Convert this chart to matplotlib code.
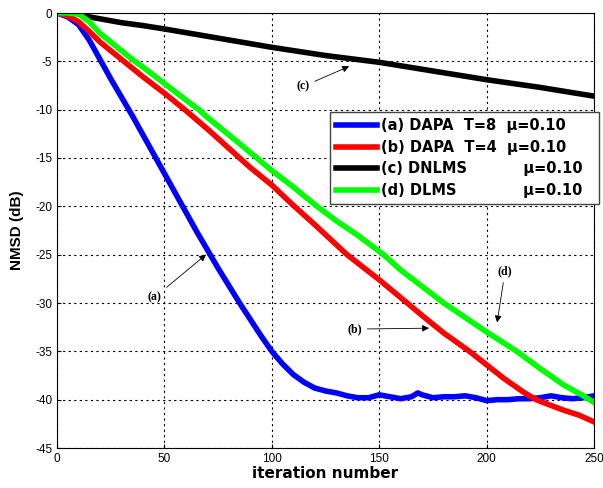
import numpy as np
import matplotlib
matplotlib.use('Agg')
import matplotlib.pyplot as plt

plt.rcParams['axes.unicode_minus'] = False
plt.rcParams['font.family'] = ['Liberation Sans', 'DejaVu Sans']

# values (iteration, NMSD in dB)
it_a = [0, 5, 10, 15, 20, 25, 30, 35, 40, 45, 50, 55, 60, 65, 70, 75, 80, 85, 90, 95,
        100, 105, 110, 115, 120, 125, 130, 135, 140, 145, 150, 155, 160, 165, 168, 170,
        175, 180, 185, 190, 195, 200, 205, 210, 215, 220, 225, 230, 235, 240, 245, 250]
nmsd_a = [0, -0.4, -1.2, -2.8, -4.8, -6.8, -8.7, -10.6, -12.6, -14.6, -16.6, -18.6, -20.6,
          -22.6, -24.5, -26.4, -28.2, -30.0, -31.7, -33.4, -35.0, -36.3, -37.4, -38.2,
          -38.8, -39.1, -39.3, -39.6, -39.8, -39.8, -39.5, -39.7, -39.9, -39.7, -39.3,
          -39.5, -39.8, -39.7, -39.7, -39.6, -39.8, -40.1, -40.0, -40.0, -39.9, -39.9,
          -39.8, -39.6, -39.8, -39.9, -39.8, -39.6]

it_b = [0, 5, 10, 15, 20, 25, 30, 35, 40, 50, 60, 70, 80, 90, 100, 110, 120, 135,
        150, 163, 170, 180, 192, 200, 208, 217, 223, 230, 236, 243, 250]
nmsd_b = [0, -0.3, -0.9, -1.9, -3.0, -3.9, -4.8, -5.7, -6.6, -8.3, -10.1, -12.0, -14.0,
          -16.0, -17.8, -19.9, -21.9, -25.0, -27.6, -30.0, -31.3, -33.1, -35.0,
          -36.4, -37.8, -39.2, -40.0, -40.6, -41.1, -41.6, -42.3]

it_c = [0, 8, 10, 15, 20, 30, 40, 50, 75, 100, 125, 150, 175, 200, 225, 250]
nmsd_c = [0, 0, -0.1, -0.4, -0.6, -1.0, -1.3, -1.65, -2.6, -3.55, -4.4, -5.1, -6.0, -6.9,
          -7.7, -8.6]

it_d = [0, 5, 10, 15, 20, 25, 30, 35, 40, 50, 60, 66, 70, 80, 93, 100, 110, 121, 130,
        140, 152, 160, 170, 180, 190, 200, 214, 225, 236, 245, 250]
nmsd_d = [0, 0, -0.1, -0.9, -2.1, -3.0, -3.9, -4.8, -5.6, -7.3, -9.0, -10.0, -10.8, -12.6,
          -15.0, -16.3, -18.0, -20.0, -21.5, -23.0, -25.0, -26.6, -28.3, -30.0, -31.5,
          -33.0, -35.0, -36.8, -38.5, -39.6, -40.3]

labels = ['(a) DAPA  T=8  \u03bc=0.10',
          '(b) DAPA  T=4  \u03bc=0.10',
          '(c) DNLMS' + ' ' * 11 + '\u03bc=0.10  ',
          '(d) DLMS' + ' ' * 13 + '\u03bc=0.10']
colors = ['#0000ff', '#ff0000', '#000000', '#00ff00']

fig = plt.figure(figsize=(6.03, 4.88), dpi=100)
ax = fig.add_axes([57/603, 1-448/488, 537/603, 435/488])

ax.plot(it_a, nmsd_a, color=colors[0], lw=4, label=labels[0])
ax.plot(it_b, nmsd_b, color=colors[1], lw=4, label=labels[1])
ax.plot(it_c, nmsd_c, color=colors[2], lw=4, label=labels[2])
ax.plot(it_d, nmsd_d, color=colors[3], lw=4, label=labels[3])

ax.set_xlim(0, 250)
ax.set_ylim(-45, 0)
ax.set_xticks(np.arange(0, 251, 50))
ax.set_yticks(np.arange(-45, 1, 5))
ax.grid(True, color='black', linestyle=(0, (2, 3)), linewidth=0.8)
ax.tick_params(direction='in', labelsize=8.5, length=3)
for s in ax.spines.values():
    s.set_linewidth(0.8)

ax.set_xlabel('iteration number', fontsize=11, fontweight='bold', labelpad=1,
              family='DejaVu Sans')
ax.set_ylabel('NMSD (dB)', fontsize=11, fontweight='bold', labelpad=8)

# arrows with (a)..(d)
ann = dict(fontsize=8.5, fontweight='bold', family='Liberation Serif')
arr = dict(arrowstyle='-|>', color='black', lw=0.6, mutation_scale=10)
ax.annotate('(a)', xy=(70.4, -24.8), xytext=(45.5, -29.4), ha='center', va='center',
            arrowprops=arr, **ann)
ax.annotate('(b)', xy=(174.5, -32.6), xytext=(138.5, -32.7), ha='center', va='center',
            arrowprops=arr, **ann)
ax.annotate('(c)', xy=(137.2, -5.4), xytext=(114.5, -7.6), ha='center', va='center',
            arrowprops=arr, **ann)
ax.annotate('(d)', xy=(204.7, -32.3), xytext=(208.6, -26.7), ha='center', va='center',
            arrowprops=arr, **ann)

leg = ax.legend(loc='upper left', bbox_to_anchor=(0.508, 0.772),
                prop={'weight': 'bold', 'size': 10.5, 'family': 'DejaVu Sans'},
                frameon=True, fancybox=False,
                framealpha=1, edgecolor='#444444', handlelength=2.8,
                handletextpad=0.3, labelspacing=0.45, borderpad=0.42,
                borderaxespad=0)
leg.get_frame().set_linewidth(1.0)

fig.savefig('out.png', dpi=100)
